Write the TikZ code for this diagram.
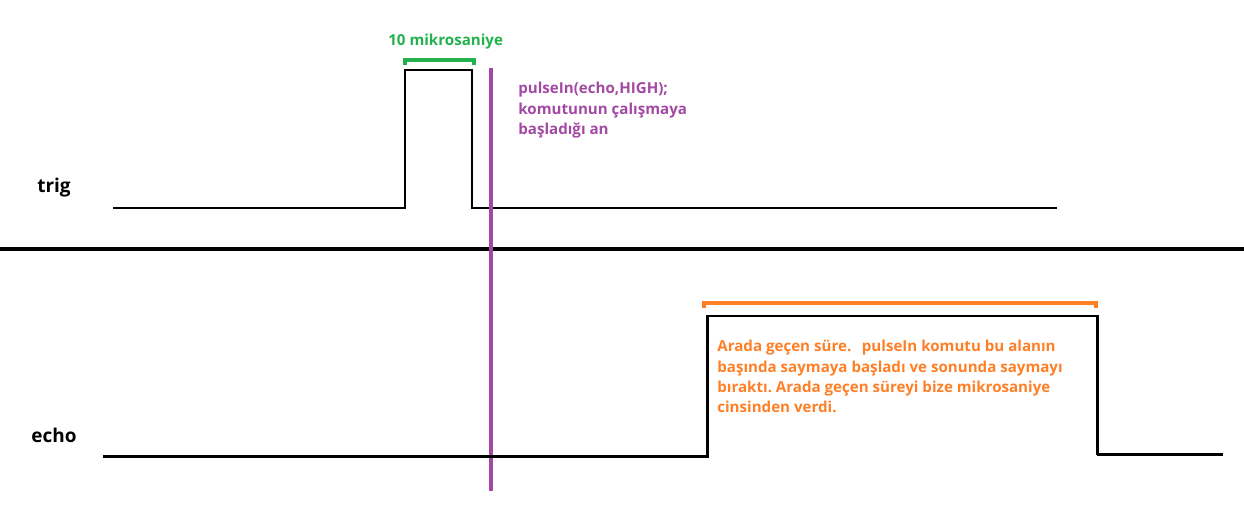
\documentclass[tikz,border=0pt]{standalone}
\usepackage{fontspec}
\setmainfont{Open Sans}
\usetikzlibrary{positioning}
\frenchspacing

\definecolor{sigblack}{RGB}{0,0,0}
\definecolor{trgreen}{RGB}{34,177,76}
\definecolor{prpl}{RGB}{163,73,164}
\definecolor{orng}{RGB}{255,127,39}

\begin{document}
\begin{tikzpicture}[x=0.02cm, y=-0.02cm,
		wave/.style={draw=sigblack, line width=1.7pt},
		divider/.style={draw=sigblack, line width=2.8pt},
		brace/.style={line width=1.9pt},
		lbl/.style={font=\bfseries\fontsize{10.8}{12}\selectfont, inner sep=0pt, anchor=base west},
		note/.style={font=\bfseries\fontsize{8.6}{11.6}\selectfont, inner sep=0pt, align=left, anchor=north west}
	]
	\useasboundingbox (0,0) rectangle (1244,504);

	% Signal names
	\node[lbl] (trig) at (37,192) {trig};
	\node[lbl] (echo) at (31,442) {echo};

	% Divider between the two signals
	\draw[divider] (0,249) -- (1244,249);

	% trig: 10 us pulse
	\draw[wave] (113,208) -- (405,208) -- (405,70) -- (472,70) -- (472,209);
	\draw[wave] (472,208) -- (1057,208);
	\draw[brace, trgreen] (405,65) -- (405,60) -- (474,60) -- (474,65);
	\node[note, text=trgreen] (tenus) at (388,34) {10 mikrosaniye};

	% pulseIn start
	\draw[prpl, line width=2.4pt] (491,68) -- (491,491);
	\node[note, text=prpl] (start) at (518,82) {pulseIn(echo,HIGH);\\komutunun çalışmaya\\başladığı an};

	% echo: measured pulse
	\draw[wave] (103,456) -- (707,456) -- (707,316) -- (1097,316) -- (1097,455);
	\draw[wave] (1097,454) -- (1223,454);
	\draw[brace, orng] (704,308) -- (704,303) -- (1096,303) -- (1096,308);
	\node[note, text=orng] (measure) at (717,340) {Arada geçen süre.\hspace{0.7em}pulseIn komutu bu alanın\\başında saymaya başladı ve sonunda saymayı\\bıraktı. Arada geçen süreyi bize mikrosaniye\\cinsinden verdi.};
\end{tikzpicture}
\end{document}
